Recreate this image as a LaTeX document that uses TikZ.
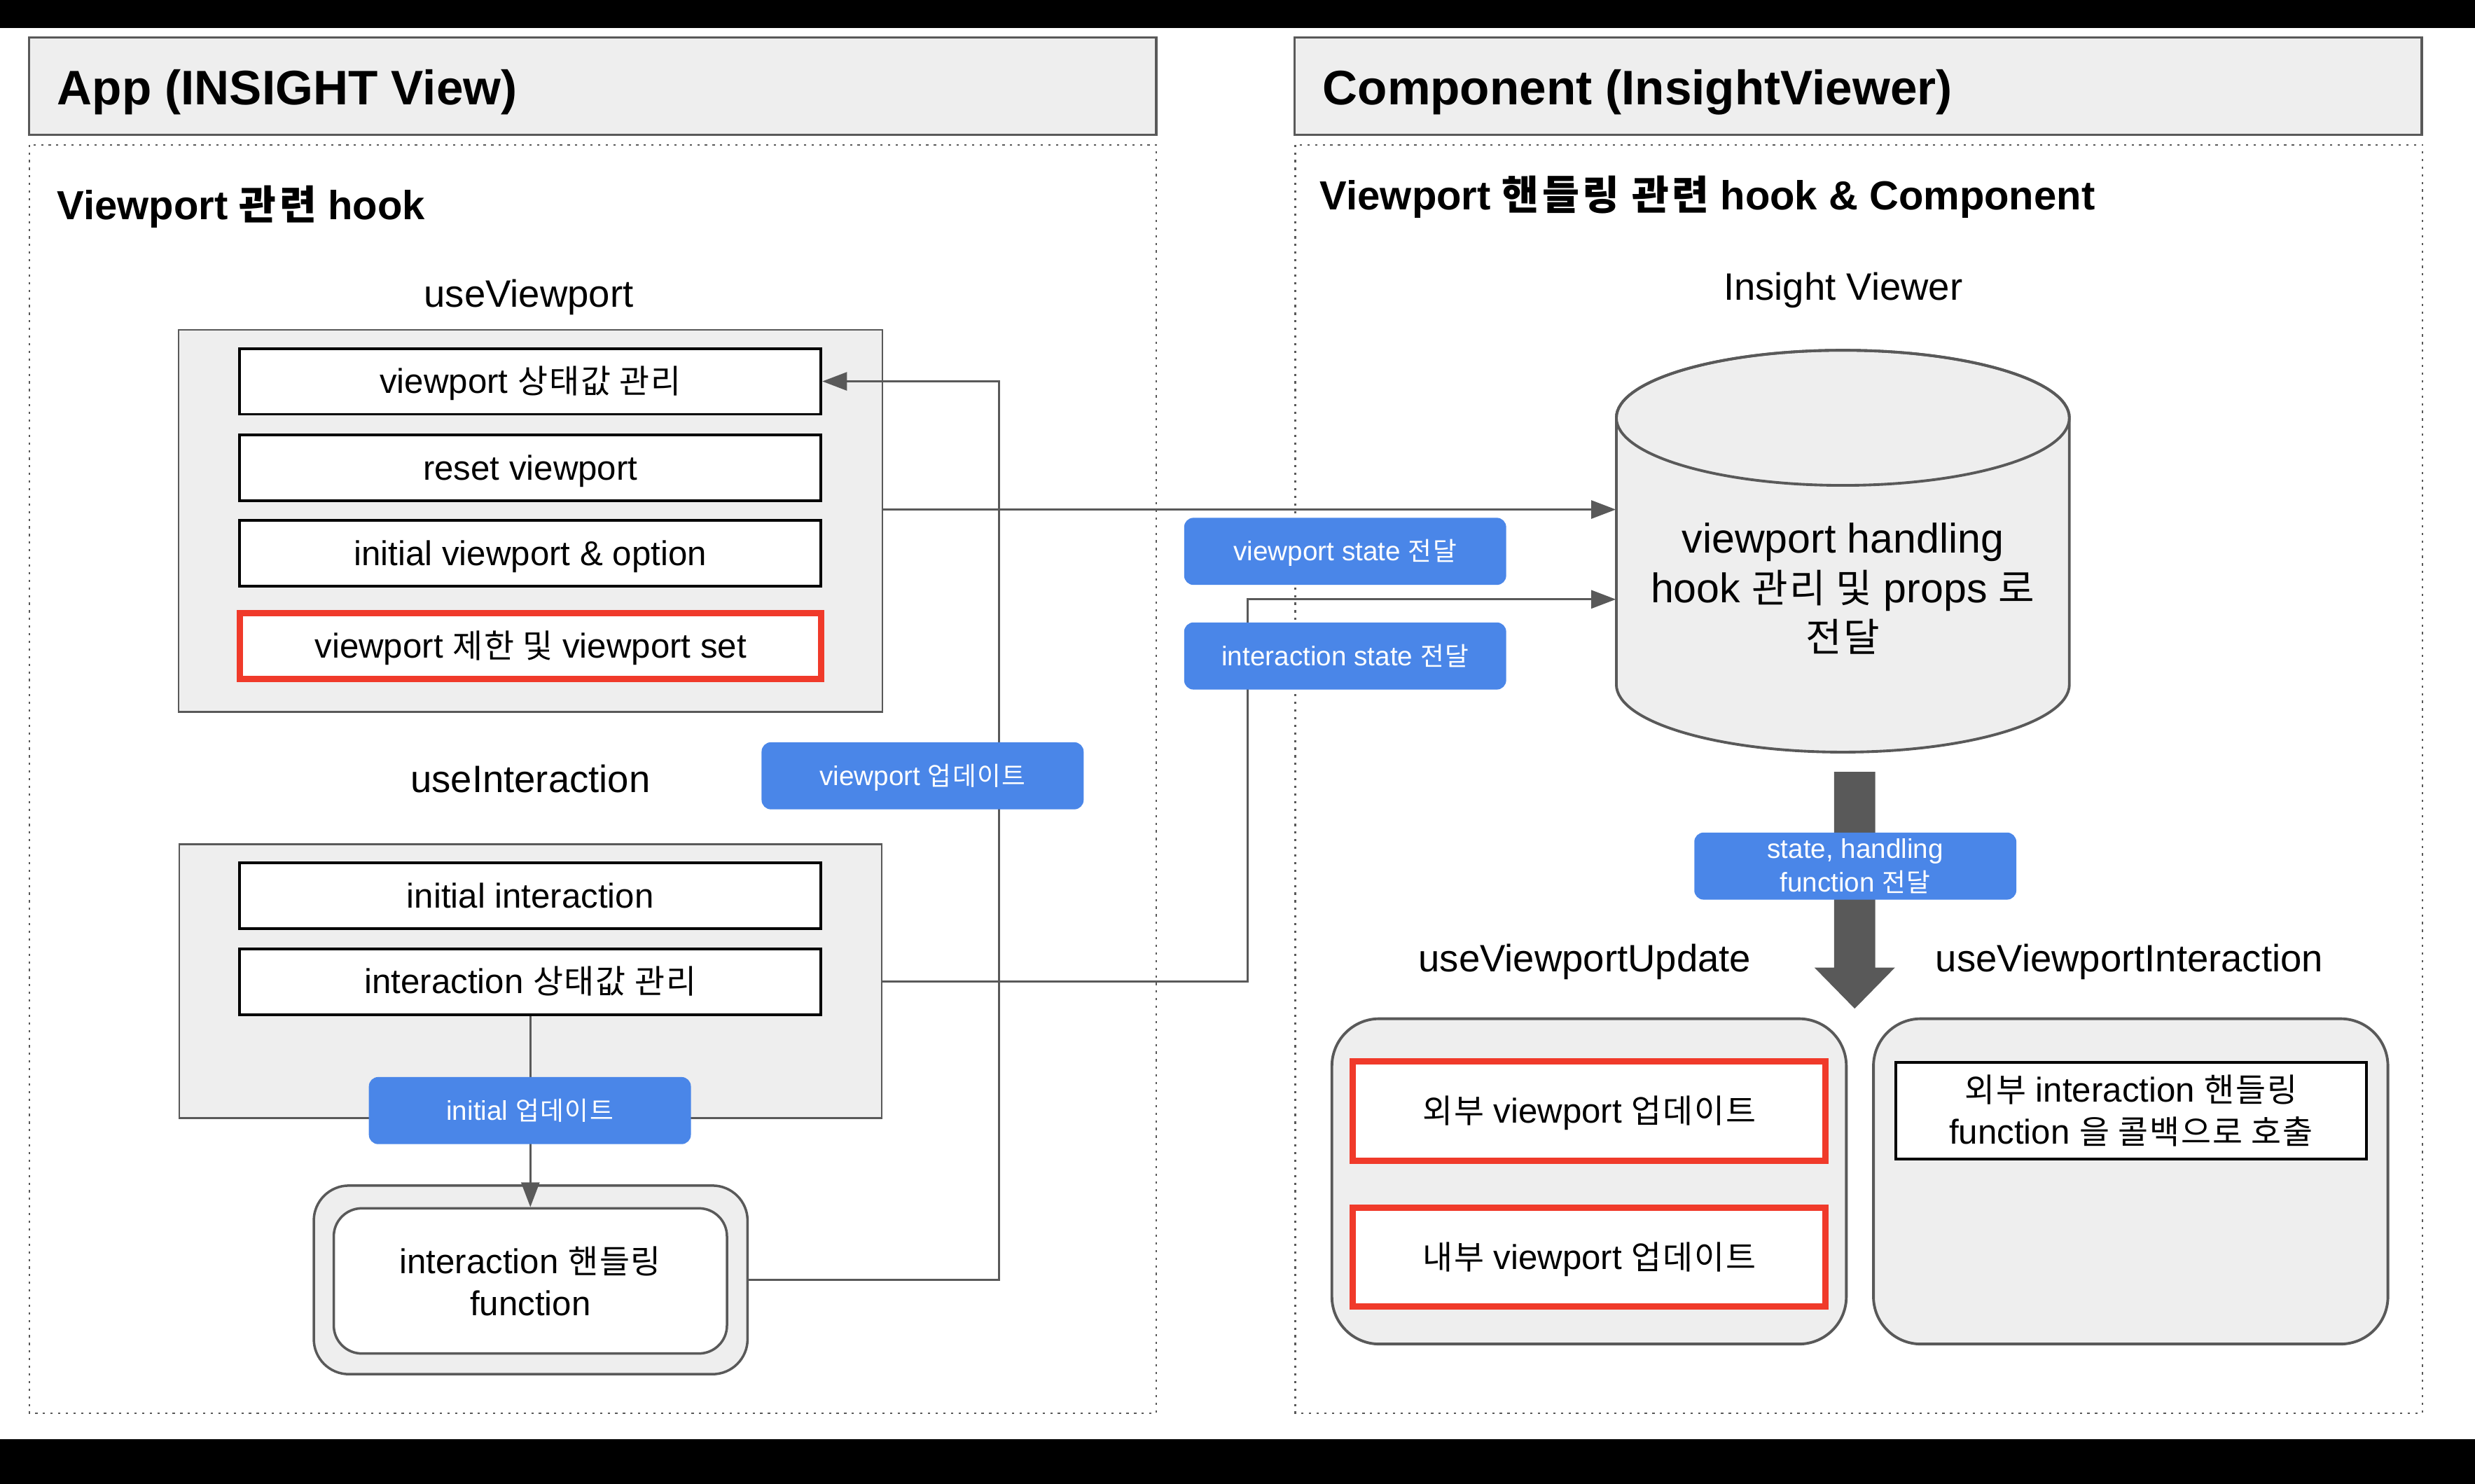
\documentclass[tikz,border=0pt]{standalone}
\usepackage{fontspec}
\setmainfont{Liberation Sans}
\newfontfamily\krfont{Noto Sans CJK KR}[Scale=0.95,LetterSpace=4]
\newfontfamily\krhfont{Noto Sans CJK KR}[Scale=0.99,LetterSpace=8]
\newcommand{\kr}[1]{{\krfont #1}}
\newcommand{\krh}[1]{{\krhfont #1}}
\usetikzlibrary{positioning,arrows.meta}
\definecolor{gline}{HTML}{595959}
\definecolor{gfill}{HTML}{EEEEEE}
\definecolor{lblue}{HTML}{4A86E8}
\definecolor{hred}{HTML}{F03A2A}
\tikzset{hdr/.style={draw=gline,line width=1pt,fill=gfill,minimum width=16.094cm,minimum height=1.393cm}}
\tikzset{area/.style={draw=gline,line width=0.6pt,dash pattern=on 0.9pt off 2.2pt}}
\tikzset{hdrtext/.style={font=\bfseries\fontsize{19.7}{24}\selectfont,inner sep=0pt,anchor=base west}}
\tikzset{subtitle/.style={font=\bfseries\fontsize{16.5}{20}\selectfont,inner sep=0pt,anchor=base west}}
\tikzset{hookname/.style={font=\fontsize{15.5}{18.6}\selectfont,inner sep=0pt,anchor=base}}
\tikzset{hookbox/.style={draw=gline,line width=0.8pt,fill=gfill}}
\tikzset{item/.style={draw=black,line width=1.1pt,fill=white,minimum width=8.3cm,minimum height=0.938cm,align=center,
  text height=12.67pt,text depth=2.97pt,font=\fontsize{14}{17.1}\selectfont}}
\tikzset{hot/.style={item,draw=hred,line width=2.6pt}}
\tikzset{tag/.style={fill=lblue,text=white,rounded corners=3.8pt,minimum width=4.598cm,minimum height=0.958cm,inner sep=1pt,align=center,
  text height=9.96pt,text depth=2.33pt,font=\fontsize{11}{13.4}\selectfont}}
\tikzset{conn/.style={draw=gline,line width=0.8pt,-{Triangle[length=10pt,width=7.4pt]}}}
\tikzset{hfouter/.style={draw=gline,line width=1pt,fill=gfill,rounded corners=0.5cm,minimum width=6.193cm,minimum height=2.693cm}}
\tikzset{hfinner/.style={draw=gline,line width=1pt,fill=white,rounded corners=0.4cm,minimum width=5.614cm,minimum height=2.073cm,align=center,font=\fontsize{14}{17.1}\selectfont}}
\tikzset{rbox/.style={draw=gline,line width=1.1pt,fill=gfill,rounded corners=0.676cm,minimum width=7.345cm,minimum height=4.645cm}}
\tikzset{cylface/.style={draw=gline,line width=1.1pt,fill=gfill}}
\tikzset{cyltext/.style={minimum width=6.468cm,inner sep=0pt,align=center,font=\fontsize{16.8}{20.1}\selectfont}}

\begin{document}
\begin{tikzpicture}[x=0.022538cm,y=-0.022538cm]
  \useasboundingbox (0,0) rectangle (1568,940);
  \fill[black] (0,0) rectangle (1568,17.7);
  \fill[black] (0,911.8) rectangle (1568,940);
  % App side
  \node[hdr] (hdrL) at (375.55,54.6) {};
  \node[hdrtext] (hdrLtxt) at (36,66.5) {App (INSIGHT View)};
  \draw[area] (18.5,91.7) rectangle (732.6,895.2);
  \node[subtitle] (subL) at (36,139) {Viewport \krh{관련} hook};
  \node[hookname] (vpname) at (335,194.5) {useViewport};
  \node[hookbox,minimum width=10.048cm,minimum height=5.454cm] (vpbox) at (336.1,330) {};
        \foreach \n/\y/\t in {vpstate/241.6/{viewport \kr{상태값 관리}},
                               vpreset/296.4/{reset viewport},
                               vpinit/350.6/{initial viewport \& option}}
          \node[item] (\n) at (336,\y) {\t};
  \node[hot] (vpset) at (336.2,409.2) {viewport \kr{제한 및} viewport set};
  \node[hookname] (ianame) at (336,502.2) {useInteraction};
  \node[hookbox,minimum width=10.03cm,minimum height=3.908cm] (iabox) at (336.1,621.7) {};
  \node[item] (iainit) at (336,567.5) {initial interaction};
  \node[item] (iastate) at (336,622) {interaction \kr{상태값 관리}};
  \node[hfouter] (hfout) at (336.2,810.85) {};
  \node[hfinner] (hfin) at (336,811.5) {interaction \kr{핸들링}\\function};
  \draw[conn] (iastate.south) -- (hfin.north);
  \node[tag] (tagInit) at (335.7,703.6) {initial \kr{업데이트}};
  \coordinate (backx) at (632.9,241.6);
  \draw[conn] (hfout.east) -| (backx) -- (vpstate.east);
  \node[tag] (tagVp) at (584.5,491.5) {viewport \kr{업데이트}};
  % Component side
  \node[hdr] (hdrR) at (1177.2,54.6) {};
  \node[hdrtext] (hdrRtxt) at (837.7,66.5) {Component (InsightViewer)};
  \draw[area] (820.6,91.7) rectangle (1534.8,895.2);
  \node[subtitle] (subR) at (836,133) {Viewport \krh{핸들링 관련} hook \& Component};
  \node[hookname] (ivname) at (1167.6,190) {Insight Viewer};
  \filldraw[cylface] (1024,264.7) -- (1024,433.7)
    arc[start angle=180,end angle=0,x radius=143.5,y radius=42.8] -- (1311,264.7)
    arc[start angle=0,end angle=-180,x radius=143.5,y radius=42.8] -- cycle;
  \draw[cylface,fill=none] (1167.5,264.7) ellipse [x radius=143.5,y radius=42.8];
  \node[cyltext] (cyl) at (1167.5,373) {viewport handling\\hook \kr{관리 및} props \kr{로}\\\kr{전달}};
  \draw[conn] (vpbox.east |- 0,322.8) -- (cyl.west |- 0,322.8);
  \draw[conn] (iabox.east |- iastate.east) -- (790.6,622) |- (cyl.west |- 0,379.7);
  \node[tag] (tagVs) at (852.2,349.3) {viewport state \kr{전달}};
  \node[tag] (tagIs) at (852.2,415.6) {interaction state \kr{전달}};
  \fill[gline] (1162,489) -- (1188,489) -- (1188,613) -- (1200.5,613) -- (1175,639) -- (1149.5,613) -- (1162,613) -- cycle;
  \node[tag,text height={},text depth={}] (tagSh) at (1175.4,548.7) {state, handling\\function \kr{전달}};
  \node[hookname] (vuname) at (1004,615.5) {useViewportUpdate};
  \node[hookname] (viname) at (1349,615.5) {useViewportInteraction};
  \node[rbox] (vubox) at (1006.75,748.45) {};
  \node[rbox] (vibox) at (1349.85,748.45) {};
  \node[hot,minimum width=6.75cm,minimum height=1.418cm] (extup) at (1006.8,703.9) {\kr{외부} viewport \kr{업데이트}};
  \node[hot,minimum width=6.75cm,minimum height=1.418cm] (intup) at (1006.8,796.4) {\kr{내부} viewport \kr{업데이트}};
  \node[item,text height={},text depth={},minimum width=6.72cm,minimum height=1.38cm] (extcb) at (1350.1,703.8) {\kr{외부} interaction \kr{핸들링}\\function \kr{을 콜백으로 호출}};
\end{tikzpicture}
\end{document}
